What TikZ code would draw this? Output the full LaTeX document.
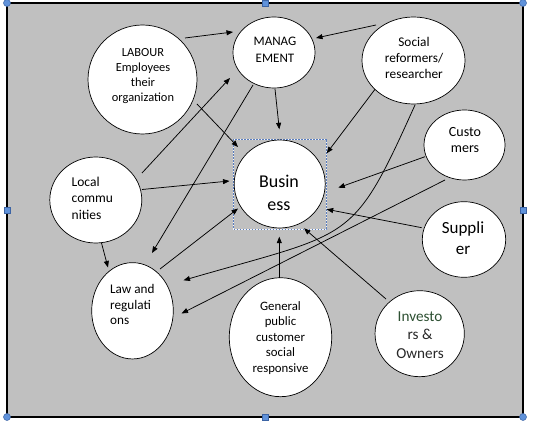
\documentclass[tikz,border=0pt]{standalone}
\usepackage{fontspec}
\setmainfont{Carlito}
\usetikzlibrary{arrows.meta,shapes.geometric,calc}
\definecolor{bggray}{RGB}{192,192,192}
\definecolor{handleblue}{RGB}{96,146,218}
\definecolor{handleedge}{RGB}{60,100,165}
\definecolor{selblue}{RGB}{90,125,190}
\definecolor{invgreen}{RGB}{45,80,50}
\definecolor{txtgray}{RGB}{40,40,40}
\begin{document}
\begin{tikzpicture}[x=1pt,y=-1pt,
  bub/.style={ellipse, draw=black, line width=0.7pt, fill=white, inner sep=0pt},
  lbl/.style={inner sep=0pt, align=center, text=black},
  arr/.style={-{Triangle[length=6.5pt,width=5pt]}, line width=0.75pt},
  handlec/.style={fill=handleblue, draw=handleedge, line width=0.5pt},
  selback/.style={draw=white!90!bggray, line width=0.7pt},
  selbox/.style={draw=selblue, line width=0.7pt, dash pattern=on 1.8pt off 1.2pt}]
\useasboundingbox (0,0) rectangle (533,427);
\fill[white] (0,0) rectangle (533,427);
\draw[fill=bggray, line width=2.4pt] (7,3) rectangle (523,417);

% ellipses
\node[bub, minimum width=109pt, minimum height=109pt] (lab) at (142.5,79.5) {};
\node[bub, minimum width=82pt, minimum height=71pt] (man) at (274,52.5) {};
\node[bub, minimum width=103pt, minimum height=87pt] (soc) at (413.5,60.5) {};
\node[bub, minimum width=81pt, minimum height=70pt] (cus) at (464.5,145) {};
\draw[selback] (233.3,139.3) rectangle (326.7,229);
\draw[selbox] (233.3,139.3) rectangle (326.7,229);
\node[bub, minimum width=91pt, minimum height=88pt] (bus) at (279.7,184) {};
\node[bub, minimum width=92pt, minimum height=86pt] (loc) at (95.8,200) {};
\node[bub, minimum width=81.6pt, minimum height=96.3pt] (law) at (132.5,310.8) {};
\node[bub, minimum width=102.4pt, minimum height=119pt] (gen) at (280.5,337.2) {};
\node[bub, minimum width=83.4pt, minimum height=75.6pt] (sup) at (464,239.5) {};
\node[bub, minimum width=89.3pt, minimum height=86pt] (inv) at (419.7,333.7) {};

% texts
\node[lbl, font=\fontsize{12.4}{15.3}\selectfont] (labt) at (143,76) {LABOUR\\Employees\\their\\organization};
\node[lbl, font=\fontsize{13}{17}\selectfont] (mant) at (275,49.5) {MANAG\\EMENT};
\node[lbl, font=\fontsize{13.3}{16}\selectfont] (soct) at (414,58) {Social\\reformers/\\researcher};
\node[lbl, font=\fontsize{14}{16.5}\selectfont] (cust) at (465,140) {Custo\\mers};
\node[lbl, font=\fontsize{18}{22.5}\selectfont] (bust) at (279,193) {Busin\\ess};
\node[lbl, align=left, anchor=west, font=\fontsize{13.5}{16.5}\selectfont] (loct) at (71.5,198) {Local\\commu\\nities};
\node[lbl, align=left, anchor=west, font=\fontsize{13.2}{15.5}\selectfont] (lawt) at (110,304.5) {Law and\\regulati\\ons};
\node[lbl, font=\fontsize{12.8}{15.5}\selectfont] (gent) at (280.5,338) {General\\public\\customer\\social\\responsive};
\node[lbl, font=\fontsize{17}{21}\selectfont] (supt) at (463,238.5) {Suppli\\er};
\node[lbl, text=txtgray, font=\fontsize{15.2}{18.5}\selectfont] (invt) at (420,335) {{\color{invgreen}Investo}\\rs \&\\Owners};

% connectors
\draw[arr] ($(lab.center)+(42.5,-41.5)$) -- ($(man.center)+(-41,-20.5)$);
\draw[arr] ($(lab.center)+(54.5,24.5)$) -- ($(bus.center)+(-41.7,-37)$);
\draw[arr] ($(loc.center)+(46.2,-27)$) -- ($(man.center)+(-44,25.5)$);
\draw[arr] ($(man.center)+(-21,32.5)$) -- ($(law.center)+(19.5,-57.8)$);
\draw[arr] ($(loc.center)+(46.2,-10.5)$) -- ($(bus.center)+(-50.2,-3)$);
\draw[arr] ($(loc.center)+(5.7,43)$) -- ($(law.center)+(-24.5,-43.3)$);
\draw[arr] ($(law.center)+(27.5,-41.8)$) -- ($(bus.center)+(-41.7,24.5)$);
\draw[arr] ($(soc.center)+(-37.5,-35.5)$) -- ($(man.center)+(42,-14.5)$);
\draw[arr] ($(man.center)+(1,36.5)$) -- ($(bus.center)+(-0.4,-54.7)$);
\draw[arr] ($(soc.center)+(-38.5,28.8)$) -- ($(bus.center)+(47,-30.7)$);
\draw[arr] ($(soc.center)+(1.5,44.5)$) .. controls (352,245) and (353.5,231) .. ($(law.center)+(51,-30.5)$);
\draw[arr] ($(cus.center)+(-39.5,11.7)$) -- ($(bus.center)+(58.6,3.7)$);
\draw[arr] ($(cus.center)+(-19.5,35)$) -- ($(law.center)+(49,2.7)$);
\draw[arr] ($(gen.center)+(-1.2,-59.5)$) -- ($(bus.center)+(-0.4,52.7)$);
\draw[arr] ($(inv.center)+(-33.7,-34.7)$) -- ($(bus.center)+(24.3,44.3)$);
\draw[arr] ($(sup.center)+(-42.3,-11.8)$) -- ($(bus.center)+(47,25.3)$);

% selection handles
\foreach \hx/\hy in {7/3,523/3,7/417,523/417}
  \draw[handlec] (\hx,\hy) circle[radius=3.5];
\foreach \hx/\hy in {265/3,7/210,523/210,265/417}
  \draw[handlec] (\hx-3,\hy-3) rectangle (\hx+3,\hy+3);
\end{tikzpicture}
\end{document}
